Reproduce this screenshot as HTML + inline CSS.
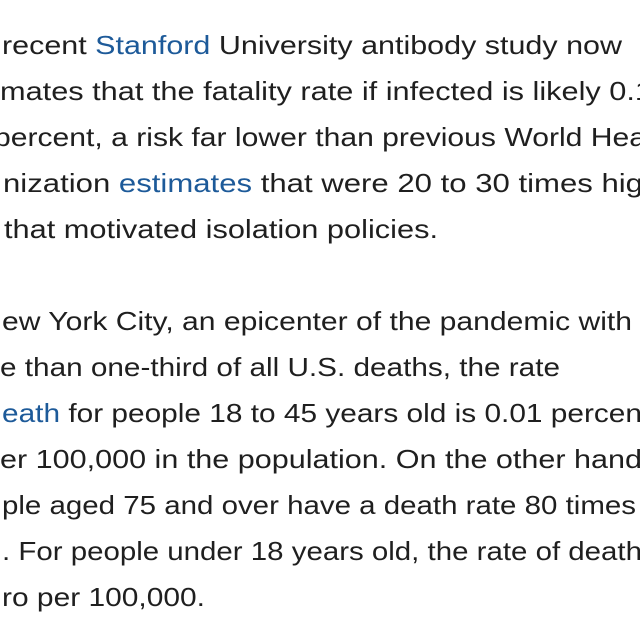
<!DOCTYPE html>
<html>
<head>
<meta charset="utf-8">
<style>
  html,body{margin:0;padding:0;background:#fff;}
  body{width:640px;height:640px;overflow:hidden;}
  svg{display:block;}
  text{font-family:"Liberation Sans",sans-serif;font-size:26px;fill:#1f1f1f;}
  .link{fill:#1d5a99;}
</style>
</head>
<body>
<svg width="640" height="640" viewBox="0 0 640 640">
  <rect width="640" height="640" fill="#fff"/>
  <text x="2" y="54" textLength="620" lengthAdjust="spacingAndGlyphs">recent <tspan class="link">Stanford</tspan> University antibody study now</text>
  <text x="0" y="100" textLength="652" lengthAdjust="spacingAndGlyphs">mates that the fatality rate if infected is likely 0.1</text>
  <text x="-6" y="146" textLength="652" lengthAdjust="spacingAndGlyphs">percent, a risk far lower than previous World Hea</text>
  <text x="3" y="192" textLength="640" lengthAdjust="spacingAndGlyphs">nization <tspan class="link">estimates</tspan> that were 20 to 30 times hig</text>
  <text x="4" y="238" textLength="434" lengthAdjust="spacingAndGlyphs">that motivated isolation policies.</text>
  <text x="2" y="330" textLength="630" lengthAdjust="spacingAndGlyphs">ew York City, an epicenter of the pandemic with</text>
  <text x="0" y="376" textLength="560" lengthAdjust="spacingAndGlyphs">e than one-third of all U.S. deaths, the rate</text>
  <text x="2" y="422" textLength="640" lengthAdjust="spacingAndGlyphs"><tspan class="link">eath</tspan> for people 18 to 45 years old is 0.01 percen</text>
  <text x="0" y="468" textLength="642" lengthAdjust="spacingAndGlyphs">er 100,000 in the population. On the other hand</text>
  <text x="2" y="514" textLength="634" lengthAdjust="spacingAndGlyphs">ple aged 75 and over have a death rate 80 times</text>
  <text x="2" y="560" textLength="640" lengthAdjust="spacingAndGlyphs">. For people under 18 years old, the rate of death</text>
  <text x="2" y="606" textLength="203" lengthAdjust="spacingAndGlyphs">ro per 100,000.</text>
</svg>
</body>
</html>
